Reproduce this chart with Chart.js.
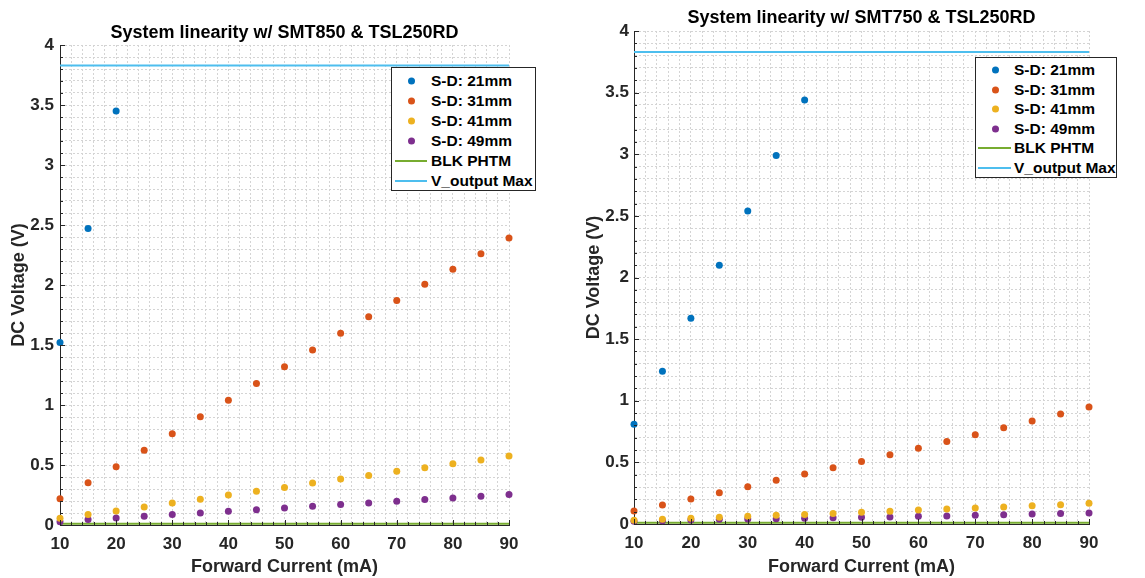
<!DOCTYPE html>
<html>
<head>
<meta charset="utf-8">
<script src="https://cdn.jsdelivr.net/npm/chart.js@4"></script>
<style>
  body { margin: 0; background: #fff; width: 1145px; height: 578px; overflow: hidden; position: relative; font-family: "Liberation Sans", Arial, sans-serif; }
  .panel { position: absolute; top: 0; height: 578px; }
  .legend { position: absolute; background: #fff; border: 1px solid #262626; box-sizing: border-box; font-weight: bold; font-size: 15.5px; color: #000; }
  .row { position: absolute; left: 0; right: 0; height: 20px; }
  .row span { position: absolute; top: 50%; transform: translateY(-50%); white-space: nowrap; }
  .dot { width: 7px; height: 7px; border-radius: 50%; }
  .seg { height: 2px; }
</style>
</head>
<body>
<div class="panel" style="left:0;width:560px"><canvas id="left"></canvas></div>
<div class="panel" style="left:580px;width:565px"><canvas id="right"></canvas></div>
<script>
// forward current in mA
const currents = [10, 15, 20, 25, 30, 35, 40, 45, 50, 55, 60, 65, 70, 75, 80, 85, 90];
const seriesNames = ["S-D: 21mm", "S-D: 31mm", "S-D: 41mm", "S-D: 49mm"];
const colors = ["#0072BD", "#D95319", "#EDB120", "#7E2F8E"];

// SMT850 (left)
const smt850_21 = [1.52, 2.47, 3.45];
const smt850_31 = [0.218, 0.352, 0.486, 0.623, 0.760, 0.902, 1.039, 1.179, 1.318, 1.458, 1.598, 1.735, 1.871, 2.006, 2.131, 2.261, 2.392];
const smt850_41 = [0.056, 0.087, 0.117, 0.151, 0.184, 0.215, 0.249, 0.282, 0.313, 0.349, 0.383, 0.413, 0.447, 0.478, 0.511, 0.542, 0.575];
const smt850_49 = [0.028, 0.045, 0.059, 0.073, 0.087, 0.101, 0.115, 0.128, 0.142, 0.156, 0.170, 0.184, 0.198, 0.212, 0.226, 0.240, 0.254];

// SMT750 (right)
const smt750_21 = [0.81, 1.24, 1.67, 2.10, 2.54, 2.99, 3.44];
const smt750_31 = [0.105, 0.154, 0.203, 0.254, 0.303, 0.354, 0.405, 0.457, 0.508, 0.562, 0.614, 0.670, 0.724, 0.781, 0.835, 0.892, 0.949];
const smt750_41 = [0.030, 0.038, 0.046, 0.054, 0.062, 0.070, 0.078, 0.086, 0.095, 0.103, 0.114, 0.122, 0.130, 0.138, 0.149, 0.157, 0.168];
const smt750_49 = [0.022, 0.027, 0.032, 0.038, 0.041, 0.043, 0.046, 0.051, 0.054, 0.057, 0.062, 0.065, 0.070, 0.076, 0.081, 0.086, 0.089];

const blkPhtm = 0.01;
const vOutputMax = 3.83;
const xTicks = [10, 20, 30, 40, 50, 60, 70, 80, 90];
const yTicks = [0, 0.5, 1, 1.5, 2, 2.5, 3, 3.5, 4];

const FONT = "'Liberation Sans', Arial, sans-serif";

function pts(vals) {
  return vals.map((v, i) => ({ x: currents[i], y: v }));
}

function hLine(v) {
  return [{ x: currents[0], y: v }, { x: currents[currents.length - 1], y: v }];
}

// small inward tick marks like matlab axes
const innerTicks = {
  id: "innerTicks",
  afterDraw(chart) {
    const { ctx, chartArea, scales } = chart;
    ctx.save();
    ctx.strokeStyle = "#262626";
    ctx.lineWidth = 1;
    scales.x.ticks.forEach((t) => {
      const p = Math.round(scales.x.getPixelForValue(t.value)) + 0.5;
      const len = xTicks.includes(t.value) ? 5 : 3;
      ctx.beginPath();
      ctx.moveTo(p, chartArea.bottom);
      ctx.lineTo(p, chartArea.bottom - len);
      ctx.stroke();
    });
    scales.y.ticks.forEach((t) => {
      const p = Math.round(scales.y.getPixelForValue(t.value)) + 0.5;
      const major = yTicks.some((y) => Math.abs(y - t.value) < 1e-6);
      ctx.beginPath();
      ctx.moveTo(chartArea.left, p);
      ctx.lineTo(chartArea.left + (major ? 5 : 3), p);
      ctx.stroke();
    });
    ctx.restore();
  },
};

function makeChart(id, title, data, geo) {
  const datasets = data.map((vals, i) => ({
    type: "scatter",
    label: seriesNames[i],
    data: pts(vals),
    backgroundColor: colors[i],
    borderColor: colors[i],
    pointRadius: 3.5,
    pointBorderWidth: 0,
    clip: false,
  }));
  datasets.push({
    type: "line", label: "BLK PHTM", data: hLine(blkPhtm),
    borderColor: "#77AC30", borderWidth: 2, pointRadius: 0, clip: false,
  });
  datasets.push({
    type: "line", label: "V_output Max", data: hLine(vOutputMax),
    borderColor: "#4DBEEE", borderWidth: 2, pointRadius: 0, clip: false,
  });

  const chart = new Chart(document.getElementById(id), {
    type: "scatter",
    data: { datasets },
    options: {
      responsive: true,
      maintainAspectRatio: false,
      animation: false,
      layout: { padding: { left: 0, right: geo.padRight, top: 0, bottom: 0 } },
      plugins: {
        legend: { display: false },
        tooltip: { enabled: false },
        title: {
          display: true,
          text: title,
          fullSize: false,
          color: "#000",
          font: { family: FONT, size: 18, weight: "bold", lineHeight: 1.2 },
          padding: { top: geo.titleTop, bottom: geo.titleBottom },
        },
      },
      scales: {
        x: {
          type: "linear",
          min: 10,
          max: 90,
          afterBuildTicks: (s) => {
            s.ticks = [];
            for (let v = 10; v <= 90; v += 2) s.ticks.push({ value: v });
          },
          afterFit: (s) => { s.height = geo.xHeight; },
          ticks: {
            autoSkip: false,
            maxRotation: 0,
            padding: 9,
            color: "#262626",
            font: { family: FONT, size: 17, weight: "bold" },
            callback: (v) => (xTicks.includes(v) ? String(v) : ""),
          },
          grid: { color: "#d4d4d4", lineWidth: 1, drawTicks: false },
          border: { display: true, color: "#262626", width: 1, dash: [2, 2] },
          title: {
            display: true,
            text: "Forward Current (mA)",
            color: "#262626",
            font: { family: FONT, size: 18, weight: "bold", lineHeight: 1.2 },
            padding: { top: 0, bottom: 0 },
          },
        },
        y: {
          type: "linear",
          min: 0,
          max: 4,
          afterBuildTicks: (s) => {
            s.ticks = [];
            for (let i = 0; i <= 40; i++) s.ticks.push({ value: i / 10 });
          },
          afterFit: (s) => { s.width = geo.yWidth; },
          ticks: {
            autoSkip: false,
            padding: geo.yTickPad,
            color: "#262626",
            font: { family: FONT, size: 17, weight: "bold" },
            callback: (v) => {
              const hit = yTicks.find((y) => Math.abs(y - v) < 1e-6);
              return hit === undefined ? "" : String(hit);
            },
          },
          grid: { color: "#d4d4d4", lineWidth: 1, drawTicks: false },
          border: { display: true, color: "#262626", width: 1, dash: [2, 2] },
          title: {
            display: true,
            text: "DC Voltage (V)",
            color: "#262626",
            font: { family: FONT, size: 18, weight: "bold", lineHeight: 1.2 },
            padding: { top: geo.yTitlePad, bottom: 0 },
          },
        },
      },
    },
    plugins: [innerTicks],
  });

  // legend box as html, built from the datasets
  const box = document.createElement("div");
  box.className = "legend";
  box.style.left = geo.legend.left + "px";
  box.style.top = geo.legend.top + "px";
  box.style.width = geo.legend.width + "px";
  box.style.height = geo.legend.height + "px";
  datasets.forEach((ds, i) => {
    const row = document.createElement("div");
    row.className = "row";
    row.style.top = (geo.legend.firstRow + i * geo.legend.step - 10) + "px";
    const mark = document.createElement("span");
    if (ds.type === "scatter") {
      mark.className = "dot";
      mark.style.background = ds.backgroundColor;
      mark.style.left = (geo.legend.markX - 3.5) + "px";
    } else {
      mark.className = "seg";
      mark.style.background = ds.borderColor;
      mark.style.left = geo.legend.segX + "px";
      mark.style.width = geo.legend.segW + "px";
    }
    const txt = document.createElement("span");
    txt.textContent = ds.label;
    txt.style.left = geo.legend.textX + "px";
    row.appendChild(mark);
    row.appendChild(txt);
    box.appendChild(row);
  });
  document.getElementById(id).parentNode.appendChild(box);
  return chart;
}

makeChart("left", "System linearity w/ SMT850 & TSL250RD",
  [smt850_21, smt850_31, smt850_41, smt850_49],
  {
    padRight: 51, titleTop: 22.5, titleBottom: 0.9, xHeight: 53, yWidth: 60, yTickPad: 6, yTitlePad: 8,
    legend: { left: 391, top: 67, width: 145, height: 124, firstRow: 13, step: 20, markX: 19, segX: 3, segW: 32, textX: 39 },
  });

makeChart("right", "System linearity w/ SMT750 & TSL250RD",
  [smt750_21, smt750_31, smt750_41, smt750_49],
  {
    padRight: 56, titleTop: 7.5, titleBottom: 1.9, xHeight: 54, yWidth: 54, yTickPad: 5, yTitlePad: 3,
    legend: { left: 395, top: 57, width: 142, height: 121, firstRow: 12, step: 19.5, markX: 19, segX: 2, segW: 33, textX: 38 },
  });
</script>
</body>
</html>
